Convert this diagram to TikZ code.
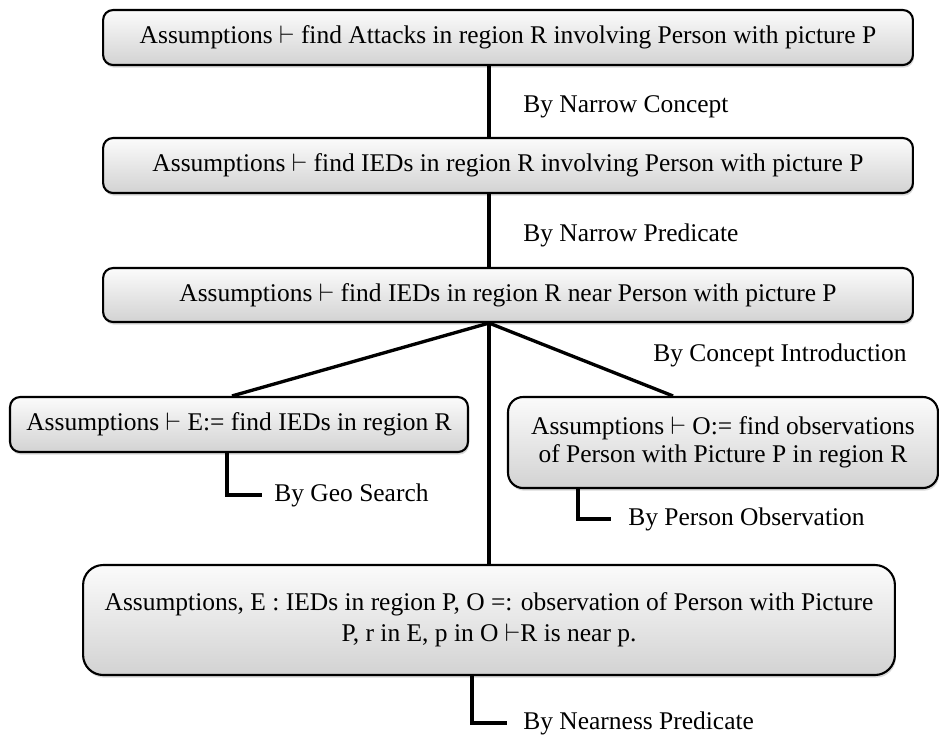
\documentclass[tikz,border=0pt]{standalone}
\usepackage{fontspec}
\setmainfont{Liberation Serif}
\usetikzlibrary{shadows}

\begin{document}
\begin{tikzpicture}[x=0.02cm, y=-0.02cm,
    goal/.style={draw=black, line width=1.2pt, rounded corners=0.2cm,
      top color=gray!3, bottom color=gray!35,
      drop shadow={shadow xshift=0.6pt, shadow yshift=-1.5pt, opacity=0.3},
      align=center, inner sep=0pt, font=\fontsize{14.5}{16}\selectfont},
    rule/.style={anchor=west, inner sep=0pt, font=\fontsize{14.5}{16}\selectfont},
    link/.style={draw=black, line width=1.9pt}]
  \useasboundingbox (0,0) rectangle (939,735);
  \coordinate (trunk) at (489,0);
  % goals
  \node[goal, minimum width=16.2cm, minimum height=1.1cm] (attacks) at (508,37.5) {Assumptions $\vdash$ find Attacks in region R involving Person with picture P};
  \node[goal, minimum width=16.2cm, minimum height=1.1cm] (ieds) at (508,165.5) {Assumptions $\vdash$ find IEDs in region R involving Person with picture P};
  \node[goal, minimum width=16.2cm, minimum height=1.08cm] (near) at (508,295) {Assumptions $\vdash$ find IEDs in region R near Person with picture P};
  %
  \node[goal, minimum width=9.16cm, minimum height=1.1cm] (findE) at (239,424.5) {Assumptions $\vdash$ E:= find IEDs in region R};
  \node[goal, rounded corners=0.3cm, minimum width=8.6cm, minimum height=1.82cm] (findO) at (723,442.5) {Assumptions $\vdash$ O:= find observations\\of Person with Picture P in region R};
  %
  \node[goal, rounded corners=0.4cm, minimum width=16.24cm, minimum height=2.2cm, font=\fontsize{14.5}{17.5}\selectfont] (combine) at (489,620) {Assumptions, E : IEDs in region P, O =: observation of Person with Picture\\P, r in E, p in O $\vdash$R is near p.};
  % rules
  \node[rule] (concept) at (523,107) {By Narrow Concept};
  \node[rule] (predicate) at (523,235) {By Narrow Predicate};
  \node[rule] (intro) at (653,355) {By Concept Introduction};
  \node[rule] (geo) at (274,495) {By Geo Search};
  \node[rule] (person) at (628,519) {By Person Observation};
  \node[rule] (nearness) at (523,723) {By Nearness Predicate};
  % links
  \draw[link] (attacks.south -| trunk) -- (ieds.north -| trunk);
  \draw[link] (ieds.south -| trunk) -- (near.north -| trunk);
  \draw[link] (near.south -| trunk) -- ([xshift=-0.14cm]findE.north);
  \draw[link] (near.south -| trunk) -- ([xshift=-1cm]findO.north);
  \draw[link] (near.south -| trunk) -- (combine.north -| trunk);
  %
  \draw[link] ([xshift=-0.24cm]findE.south) |- ([xshift=-0.24cm]geo.west);
  \draw[link] ([xshift=-2.9cm]findO.south) |- ([xshift=-0.34cm]person.west);
  \draw[link] ([xshift=-0.34cm]combine.south) |- ([xshift=-0.32cm]nearness.west);
\end{tikzpicture}
\end{document}
